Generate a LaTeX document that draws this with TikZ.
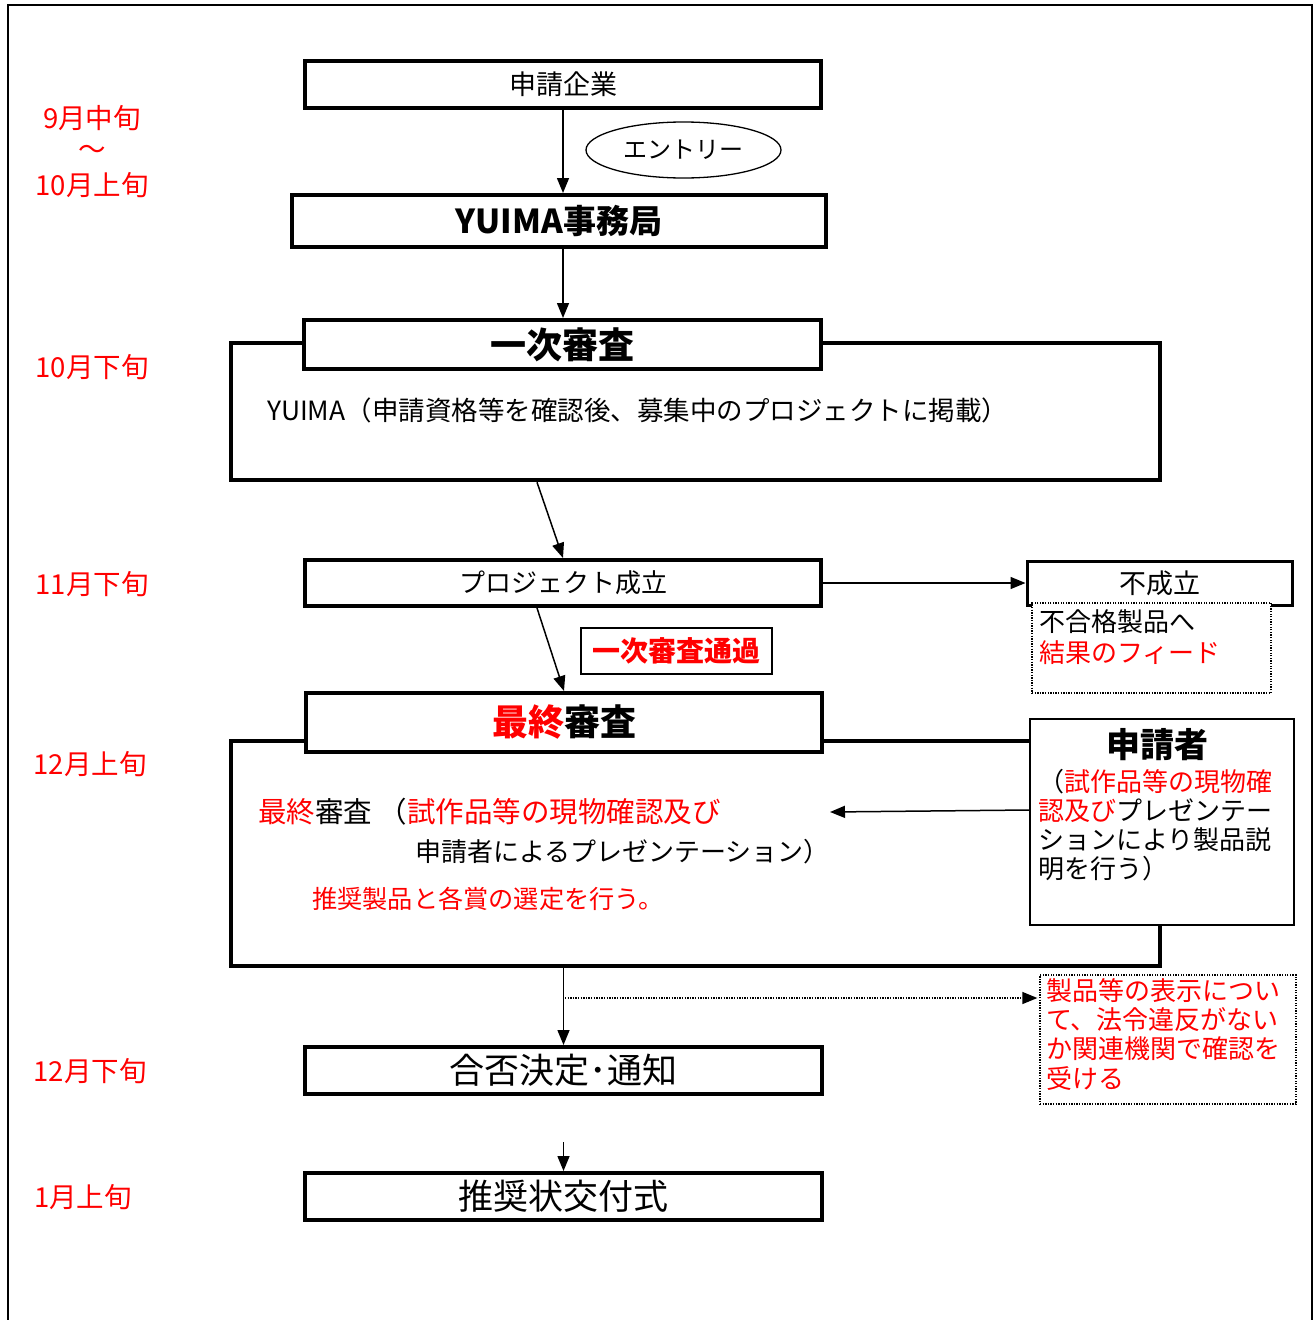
\documentclass[tikz,border=0pt]{standalone}
\usepackage{fontspec}
\setmainfont{Noto Sans CJK JP}
\usetikzlibrary{arrows.meta,calc,shapes.geometric}
\definecolor{jred}{RGB}{255,0,0}
\newcommand{\fsz}[1]{\fontsize{#1}{#1}\selectfont}
\begin{document}
\begin{tikzpicture}[x=1pt,y=-1pt,
  tbox/.style={draw, line width=4pt, fill=white, inner sep=0pt, minimum width=516pt, minimum height=47pt},
  bigbox/.style={draw, line width=4.5pt, inner sep=0pt, minimum width=929pt},
  tip/.style={-{Triangle[length=15pt,width=12pt]}},
  arr/.style={line width=1.5pt, tip},
  dotbox/.style={draw, line width=1.3pt, dash pattern=on 1.3pt off 1.3pt, inner sep=0pt},
  month/.style={text=jred, font=\fsz{27.5pt}},
  lbl/.style={inner sep=0pt, anchor=west}
]
\useasboundingbox (0,0) rectangle (1316,1320);
\fill[white] (0,0) rectangle (1316,1320);
% outer frame
\draw[line width=1.2pt] (8,1320) -- (8,5) -- (1312,5) -- (1312,1320);

% month labels
\node[month] (m1) at (92,118) {9月中旬};
\node[month] (m1b) at (92,152) {～};
\node[month] (m1c) at (92,185) {10月上旬};
\node[month] (m2) at (92,367) {10月下旬};
\node[month] (m3) at (92,584) {11月下旬};
\node[month] (m4) at (90,764) {12月上旬};
\node[month] (m5) at (90,1071) {12月下旬};
\node[month] (m6) at (83,1197) {1月上旬};

% top boxes
\node[tbox, font=\fsz{27pt}] (a) at (563,84.5) {申請企業};
\node[draw, ellipse, line width=1.3pt, minimum width=195pt, minimum height=56pt, inner sep=0pt, font=\fsz{24pt}] (ent) at (683.5,150) {エントリー};
\node[tbox, minimum width=534pt, minimum height=52pt, font=\fsz{33pt}\bfseries] (b) at (559,221) {YUIMA事務局};

% first review
\node[bigbox, minimum height=137pt] (big1) at (695.5,411.5) {};
\node[tbox, minimum width=517pt, minimum height=49pt, font=\fsz{36pt}\bfseries] (h1) at (562.5,344.5) {一次審査};
\node[lbl, font=\fsz{26.5pt}] (t1) at (267,410) {YUIMA（申請資格等を確認後、募集中のプロジェクトに掲載）};

% project
\node[tbox, minimum height=46pt, font=\fsz{26pt}] (p) at (563,583) {プロジェクト成立};
\node[draw, line width=3pt, fill=white, inner sep=0pt, minimum width=265pt, minimum height=44pt, font=\fsz{27pt}] (f) at (1159.5,583) {不成立};
\node[dotbox, fill=white, minimum width=239pt, minimum height=90pt] (d1) at (1151.5,648) {};
\node[lbl, font=\fsz{26pt}] (t2) at (1039,622) {不合格製品へ};
\node[lbl, font=\fsz{26pt}, text=jred] (t3) at (1039,653) {結果のフィード};
\node[draw, line width=1.3pt, inner sep=0pt, minimum width=191pt, minimum height=46pt, font=\fsz{28pt}\bfseries, text=jred] (pass) at (676.5,651) {一次審査通過};

% final review
\node[bigbox, minimum height=225pt] (big2) at (695.5,853.5) {};
\node[tbox, minimum height=59pt, font=\fsz{36pt}\bfseries] (h2) at (564,722.5) {{\color{jred}最終}審査};
\node[draw, line width=2.5pt, fill=white, inner sep=0pt, minimum width=264pt, minimum height=206pt] (s) at (1162,822) {};
\node[font=\fsz{34pt}\bfseries, inner sep=0pt] (sh) at (1157,745) {申請者};
\node[anchor=north west, inner sep=0pt, align=left, font=\fontsize{26pt}{29pt}\selectfont] (st) at (1038,769)
  {（{\color{jred}試作品等の現物確}\\{\color{jred}認及び}プレゼンテー\\ションにより製品説\\明を行う）};
\node[lbl, font=\fsz{28.5pt}] (t4) at (258,812) {{\color{jred}最終}審査 （{\color{jred}試作品等の現物確認及び}};
\node[lbl, font=\fsz{26pt}] (t5) at (415,852) {申請者によるプレゼンテーション）};
\node[lbl, font=\fsz{25.2pt}, text=jred] (t6) at (312,899) {推奨製品と各賞の選定を行う。};
\coordinate (sarr) at (830,812);

% legal check box
\node[dotbox, minimum width=256pt, minimum height=129pt] (d2) at (1168,1039.5) {};
\node[anchor=north west, inner sep=0pt, align=left, text=jred, font=\fontsize{26pt}{29.3pt}\selectfont] (dt) at (1046,978)
  {製品等の表示につい\\て、法令違反がない\\か関連機関で確認を\\受ける};

% decision and ceremony
\node[tbox, minimum width=517pt, font=\fsz{35pt}] (g) at (563.5,1070.5) {合否決定･通知};
\node[tbox, minimum width=517pt, font=\fsz{35pt}] (r) at (563.5,1196.5) {推奨状交付式};

% connectors
\draw[arr] (a.south -| 563,0) -- (563,193) coordinate (bt);
\draw[arr] (b.south -| 563,0) -- (h1.north -| 563,0);
\draw[arr] ([xshift=-158.5pt]big1.south) -- (p.north);
\draw[arr] (p.east) -- (f.west);
\draw[arr] ([xshift=-26pt]p.south) -- (h2.north);
\draw[arr] ([yshift=12pt]s.west) -- (sarr);
\draw[arr] ([yshift=4pt]big2.south -| g.north) -- (g.north);
\coordinate (dstart) at (565,998);
\draw[line width=1.3pt, dash pattern=on 1.3pt off 1.3pt, tip] (dstart) -- ([yshift=41.5pt, xshift=-2pt]d2.west);
\draw[arr] ([yshift=-46pt]g.south) -- (r.north);
\end{tikzpicture}
\end{document}
